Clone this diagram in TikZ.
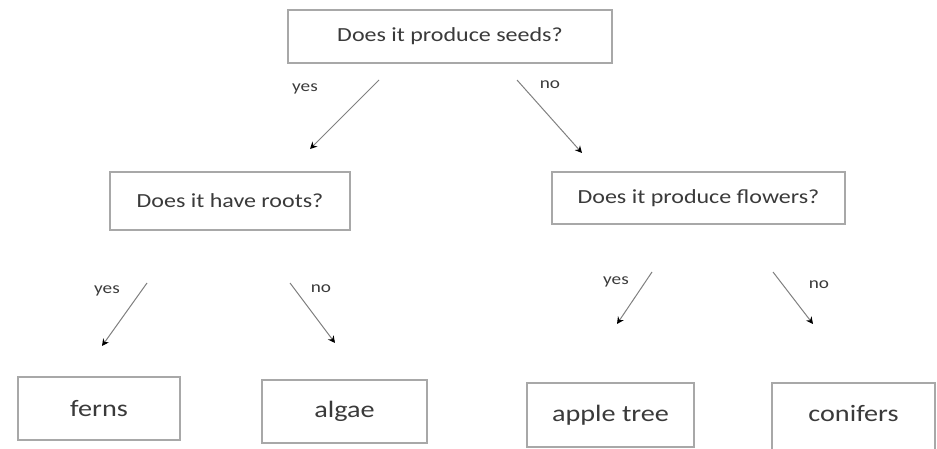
\documentclass[tikz,border=0pt]{standalone}
\usepackage{fontspec}
\setmainfont{Carlito}[FakeStretch=1.2]
\usetikzlibrary{arrows.meta}
\definecolor{boxline}{HTML}{A8A8A8}
\definecolor{txt}{HTML}{3A3A3A}
\definecolor{arrline}{HTML}{808080}
\tikzset{
  qbox/.style={draw=boxline, line width=1.8pt, fill=white, text=txt, inner sep=0pt, font=\fontsize{20}{24}\selectfont},
  abox/.style={draw=boxline, line width=1.8pt, fill=white, text=txt, inner sep=0pt, font=\fontsize{23.5}{28}\selectfont},
  arr/.style={draw=arrline, line width=1pt, -{Stealth[black,length=7pt,width=7pt]}},
  lbl/.style={text=txt, inner sep=0pt, font=\fontsize{16}{19}\selectfont}
}
\begin{document}
\begin{tikzpicture}[x=1pt,y=-1pt]
\useasboundingbox (0,0) rectangle (937,449);
\clip (0,0) rectangle (937,449);
% question boxes
\node[qbox, minimum width=324pt, minimum height=53pt] (top) at (450,36.5) {Does it produce seeds?};
\node[qbox, minimum width=240pt, minimum height=58pt] (roots) at (230,201) {Does it have roots?};
\node[qbox, minimum width=293pt, minimum height=52pt] (flowers) at (698.5,198) {Does it produce flowers?};
% answer boxes
\node[abox, minimum width=162pt, minimum height=63pt] (ferns) at (99,408.5) {ferns};
\node[abox, minimum width=165pt, minimum height=63pt] (algae) at (344.5,411.5) {algae};
\node[abox, minimum width=167pt, minimum height=64pt] (apple) at (610.5,415) {apple tree};
\node[abox, minimum width=163pt, minimum height=72pt] (conifers) at (853.5,419) {\raisebox{11pt}{conifers}};
% arrow end points
\coordinate (t1) at (379,80);  \coordinate (t1e) at (310,149);
\coordinate (t2) at (517,80);  \coordinate (t2e) at (582,153);
\coordinate (r1) at (147,283); \coordinate (r1e) at (102,346);
\coordinate (r2) at (290,283); \coordinate (r2e) at (335,343);
\coordinate (f1) at (652,272); \coordinate (f1e) at (617,324);
\coordinate (f2) at (773,272); \coordinate (f2e) at (813,324);
\draw[arr] (t1) -- (t1e);
\draw[arr] (t2) -- (t2e);
\draw[arr] (r1) -- (r1e);
\draw[arr] (r2) -- (r2e);
\draw[arr] (f1) -- (f1e);
\draw[arr] (f2) -- (f2e);
% labels
\node[lbl] (ly1) at (305,89) {yes};
\node[lbl] (ln1) at (550,85) {no};
\node[lbl] (ly2) at (107,291) {yes};
\node[lbl] (ln2) at (321,289) {no};
\node[lbl] (ly3) at (616,282) {yes};
\node[lbl] (ln3) at (819,285) {no};
\end{tikzpicture}
\end{document}
